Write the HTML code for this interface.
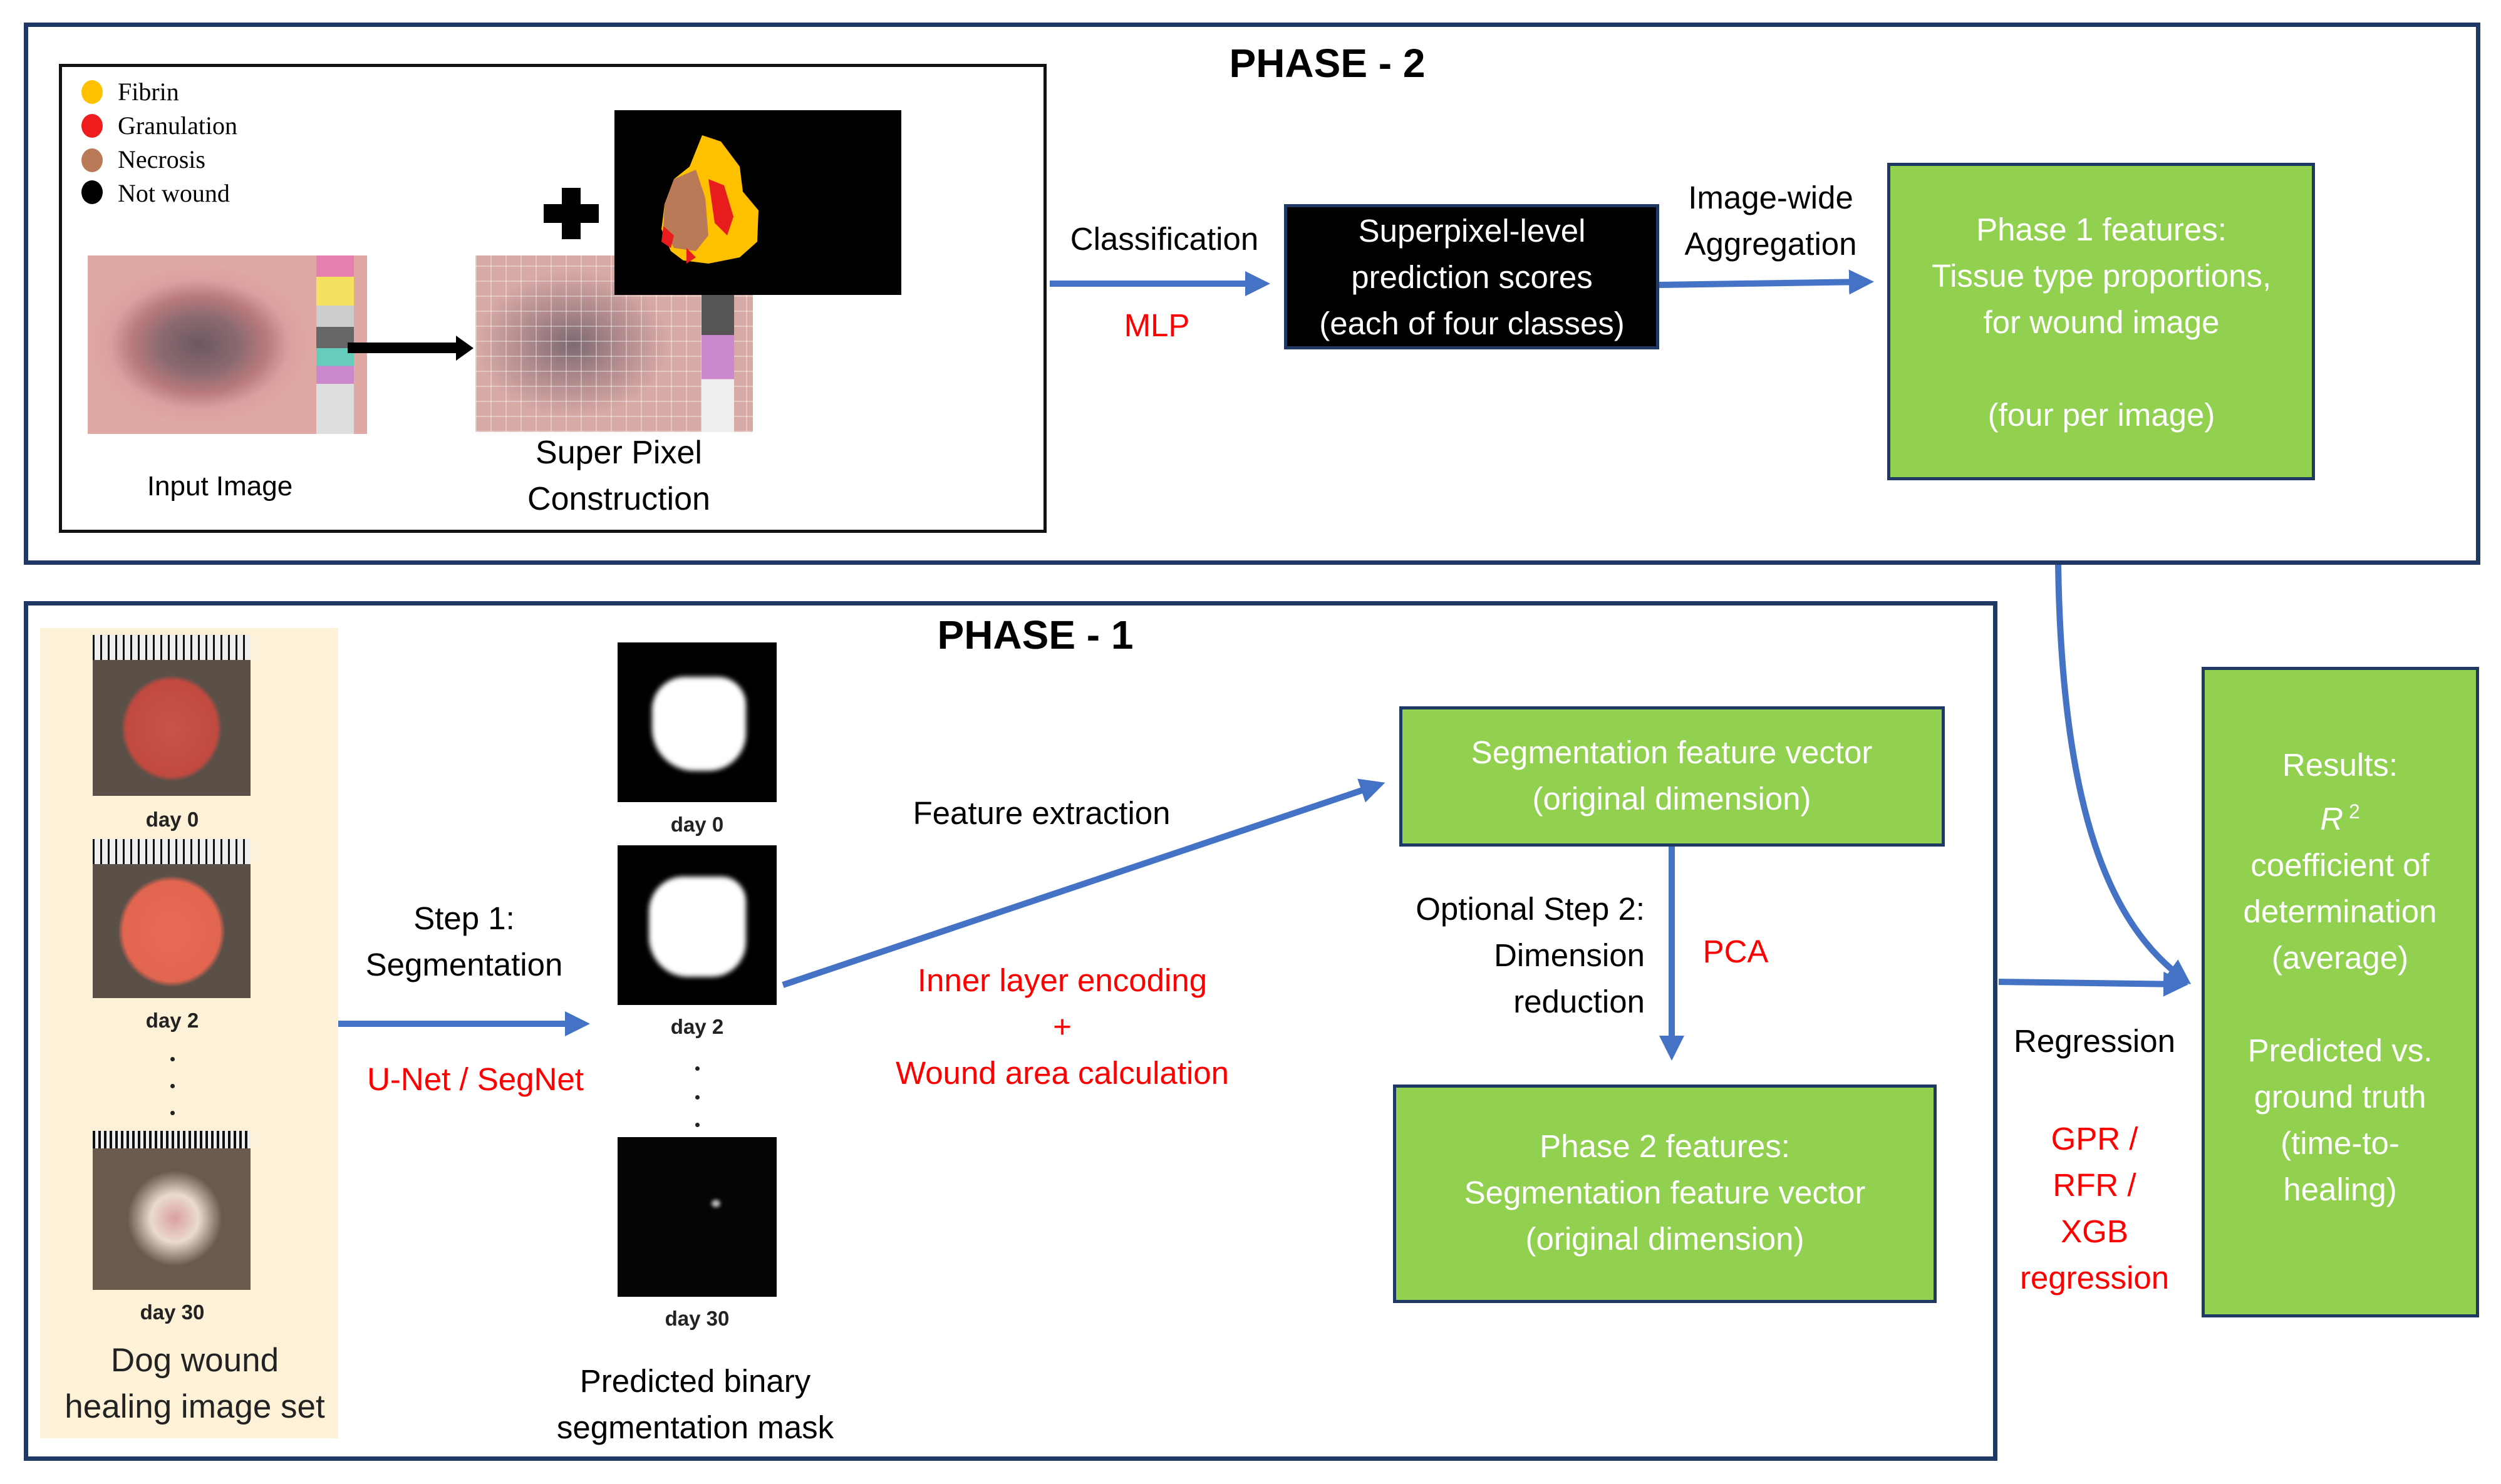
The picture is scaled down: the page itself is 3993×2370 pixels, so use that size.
<!DOCTYPE html>
<html><head><meta charset="utf-8"><style>
body{margin:0;width:3993px;height:2370px;background:#fff;position:relative;overflow:hidden;font-family:"Liberation Sans",sans-serif}
.a{position:absolute}
.t{position:absolute;width:1000px;text-align:center;font-size:51px;line-height:74px;white-space:nowrap}
.r{color:#ff0000}
.w{color:#fff}
.g{position:absolute;background:#92d050;border:5px solid #203864;box-sizing:border-box}
.day{position:absolute;width:400px;text-align:center;font-weight:bold;font-size:33px;line-height:40px;color:#222}
.dot{position:absolute;width:7px;height:7px;background:#222;border-radius:50%}
</style></head><body>
<div class="a" style="left:38px;top:36px;width:3922px;height:866px;border:7px solid #203864;box-sizing:border-box"></div>
<div class="a" style="left:94px;top:102px;width:1577px;height:749px;border:5px solid #111;box-sizing:border-box"></div>
<div class="a" style="left:130px;top:128px;width:34px;height:38px;border-radius:50%;background:#ffc000"></div>
<div class="a" style="left:130px;top:182px;width:34px;height:38px;border-radius:50%;background:#ee1c1c"></div>
<div class="a" style="left:130px;top:237px;width:34px;height:38px;border-radius:50%;background:#b97a57"></div>
<div class="a" style="left:130px;top:288px;width:34px;height:38px;border-radius:50%;background:#000"></div>
<div class="a" style="left:188px;top:120px;font-family:'Liberation Serif',serif;font-size:40px;line-height:54px">Fibrin<br>Granulation<br>Necrosis<br>Not wound</div>
<div class="a" style="left:140px;top:408px;width:446px;height:285px;background:radial-gradient(ellipse 40% 45% at 40% 50%,#6d5860 0%,#8a6a70 35%,#b87a7c 60%,#d9a0a0 80%,#e0a8a3 100%)"></div>
<div class="a" style="left:505px;top:408px;width:60px;height:285px;background:linear-gradient(#e680b0 0 12%,#f5e060 12% 28%,#ccc 28% 40%,#666 40% 52%,#6cb 52% 62%,#c8c 62% 72%,#ddd 72% 100%)"></div>
<div class="a" style="left:555px;top:547px;width:180px;height:17px;background:#000"></div>
<div class="a" style="left:728px;top:536px;width:0;height:0;border-left:28px solid #000;border-top:20px solid transparent;border-bottom:20px solid transparent"></div>
<div class="a" style="left:759px;top:408px;width:443px;height:282px;background:repeating-linear-gradient(90deg,rgba(255,255,255,.35) 0 2px,transparent 2px 24px),repeating-linear-gradient(0deg,rgba(255,255,255,.35) 0 2px,transparent 2px 24px),radial-gradient(ellipse 35% 42% at 35% 50%,#7d6a72 0%,#b08a8c 50%,#d8aaa6 100%)"></div>
<div class="a" style="left:1120px;top:408px;width:52px;height:282px;background:linear-gradient(#f5e060 0 20%,#555 20% 45%,#c8c 45% 70%,#eee 70% 100%)"></div>
<div class="a" style="left:981px;top:176px;width:458px;height:295px;background:#000"></div>
<svg class="a" style="left:981px;top:176px" width="458" height="295"><path d="M140 40 L170 50 L200 90 L205 130 L230 160 L228 210 L200 235 L150 245 L110 240 L90 225 L75 190 L80 150 L95 110 L120 90 Z" fill="#ffc000"/><path d="M80 150 L95 110 L130 95 L145 140 L150 200 L130 225 L95 220 L78 190 Z" fill="#b97a57"/><path d="M150 110 L175 120 L190 170 L180 200 L160 180 Z M78 185 L95 200 L90 220 L75 210 Z M115 220 L130 235 L115 245 Z" fill="#e81c1c"/></svg>
<div class="a" style="left:868px;top:326px;width:88px;height:30px;background:#000"></div>
<div class="a" style="left:897px;top:300px;width:30px;height:82px;background:#000"></div>
<div class="t" style="left:-149px;top:740px;font-size:44px">Input Image</div>
<div class="t" style="left:488px;top:686px;font-size:52px">Super Pixel<br>Construction</div>
<div class="t" style="left:1619px;top:64px;font-weight:bold;font-size:64px">PHASE - 2</div>
<div class="t" style="left:1359px;top:345px">Classification</div>
<div class="t r" style="left:1347px;top:483px">MLP</div>
<div class="a" style="left:2050px;top:326px;width:599px;height:232px;background:#000;border:5px solid #203864;box-sizing:border-box"></div>
<div class="t w" style="left:1850px;top:332px">Superpixel-level<br>prediction scores<br>(each of four classes)</div>
<div class="t" style="left:2327px;top:279px">Image-wide<br>Aggregation</div>
<div class="g" style="left:3013px;top:260px;width:683px;height:507px"></div>
<div class="t w" style="left:2855px;top:330px">Phase 1 features:<br>Tissue type proportions,<br>for wound image<br><br>(four per image)</div>
<div class="a" style="left:38px;top:960px;width:3151px;height:1373px;border:7px solid #203864;box-sizing:border-box"></div>
<div class="t" style="left:1153px;top:977px;font-weight:bold;font-size:64px">PHASE - 1</div>
<div class="a" style="left:64px;top:1003px;width:476px;height:1294px;background:#fdf2d8"></div>
<div class="a" style="left:148px;top:1014px;width:252px;height:257px;background:radial-gradient(ellipse 32% 33% at 50% 58%,#c8554a 0%,#c04a40 90%,#5a5048 100%),#5e574e"></div>
<div class="a" style="left:148px;top:1014px;width:252px;height:40px;background:repeating-linear-gradient(90deg,#111 0 3px,#eee 3px 12px)"></div>
<div class="a" style="left:148px;top:1340px;width:252px;height:254px;background:radial-gradient(ellipse 34% 35% at 50% 58%,#ea6a55 0%,#e26550 90%,#5a5048 100%),#5e574e"></div>
<div class="a" style="left:148px;top:1340px;width:252px;height:40px;background:repeating-linear-gradient(90deg,#111 0 3px,#eee 3px 12px)"></div>
<div class="a" style="left:148px;top:1806px;width:252px;height:254px;background:radial-gradient(ellipse 30% 30% at 52% 55%,#d9a0a0 0%,#eadad0 50%,#6a5a4c 100%),#5e574e"></div>
<div class="a" style="left:148px;top:1806px;width:252px;height:28px;background:repeating-linear-gradient(90deg,#111 0 4px,#eee 4px 9px)"></div>
<div class="day" style="left:75px;top:1289px">day 0</div>
<div class="day" style="left:75px;top:1610px">day 2</div>
<div class="day" style="left:75px;top:2076px">day 30</div>
<div class="dot" style="left:272px;top:1688px"></div><div class="dot" style="left:272px;top:1731px"></div><div class="dot" style="left:272px;top:1774px"></div>
<div class="t" style="left:-189px;top:2136px;color:#222;font-size:53px">Dog wound<br>healing image set</div>
<div class="t" style="left:241px;top:1430px">Step 1:<br>Segmentation</div>
<div class="t r" style="left:259px;top:1687px">U-Net / SegNet</div>
<div class="a" style="left:986px;top:1026px;width:254px;height:255px;background:#000"><div class="a" style="left:55px;top:55px;width:150px;height:150px;background:#fff;border-radius:35% 30% 40% 45%;filter:blur(4px)"></div></div>
<div class="a" style="left:986px;top:1350px;width:254px;height:255px;background:#000"><div class="a" style="left:50px;top:50px;width:155px;height:160px;background:#fff;border-radius:35% 25% 35% 40%;filter:blur(4px)"></div></div>
<div class="a" style="left:986px;top:1816px;width:254px;height:255px;background:#050505"><div class="a" style="left:150px;top:100px;width:14px;height:12px;background:#bbb;border-radius:50%;filter:blur(3px)"></div></div>
<div class="day" style="left:913px;top:1297px">day 0</div>
<div class="day" style="left:913px;top:1620px">day 2</div>
<div class="day" style="left:913px;top:2086px">day 30</div>
<div class="dot" style="left:1110px;top:1703px"></div><div class="dot" style="left:1110px;top:1749px"></div><div class="dot" style="left:1110px;top:1793px"></div>
<div class="t" style="left:610px;top:2169px">Predicted binary<br>segmentation mask</div>
<div class="t" style="left:1163px;top:1262px">Feature extraction</div>
<div class="t r" style="left:1196px;top:1529px">Inner layer encoding<br>+<br>Wound area calculation</div>
<div class="g" style="left:2234px;top:1128px;width:871px;height:224px"></div>
<div class="t w" style="left:2169px;top:1165px">Segmentation feature vector<br>(original dimension)</div>
<div class="a" style="left:2126px;top:1415px;width:500px;text-align:right;font-size:51px;line-height:74px">Optional Step 2:<br>Dimension<br>reduction</div>
<div class="t r" style="left:2271px;top:1483px">PCA</div>
<div class="g" style="left:2224px;top:1732px;width:868px;height:349px"></div>
<div class="t w" style="left:2158px;top:1794px">Phase 2 features:<br>Segmentation feature vector<br>(original dimension)</div>
<div class="g" style="left:3515px;top:1065px;width:443px;height:1039px"></div>
<div class="t w" style="left:3236px;top:1185px">Results:<br><i>R</i><sup style="font-size:32px"> 2</sup><br>coefficient of<br>determination<br>(average)<br><br>Predicted vs.<br>ground truth<br>(time-to-<br>healing)</div>
<div class="t" style="left:2844px;top:1626px">Regression</div>
<div class="t r" style="left:2844px;top:1782px">GPR /<br>RFR /<br>XGB<br>regression</div>
<svg class="a" style="left:0;top:0" width="3993" height="2370">
<defs><marker id="m" markerWidth="4" markerHeight="4" refX="3" refY="2" orient="auto" markerUnits="strokeWidth"><path d="M0 0 L4 2 L0 4 Z" fill="#4472c4"/></marker></defs>
<g stroke="#4472c4" stroke-width="10" fill="none">
<path d="M1676 453 L2018 453" marker-end="url(#m)"/>
<path d="M2649 455 L2982 450" marker-end="url(#m)"/>
<path d="M540 1635 L932 1635" marker-end="url(#m)"/>
<path d="M1250 1573 L2202 1253" marker-end="url(#m)"/>
<path d="M2669 1352 L2669 1684" marker-end="url(#m)"/>
<path d="M3191 1568 L3484 1572" marker-end="url(#m)"/>
<path d="M3286 902 C3292 1300 3370 1480 3490 1566" marker-end="url(#m)"/>
</g></svg>
</body></html>
